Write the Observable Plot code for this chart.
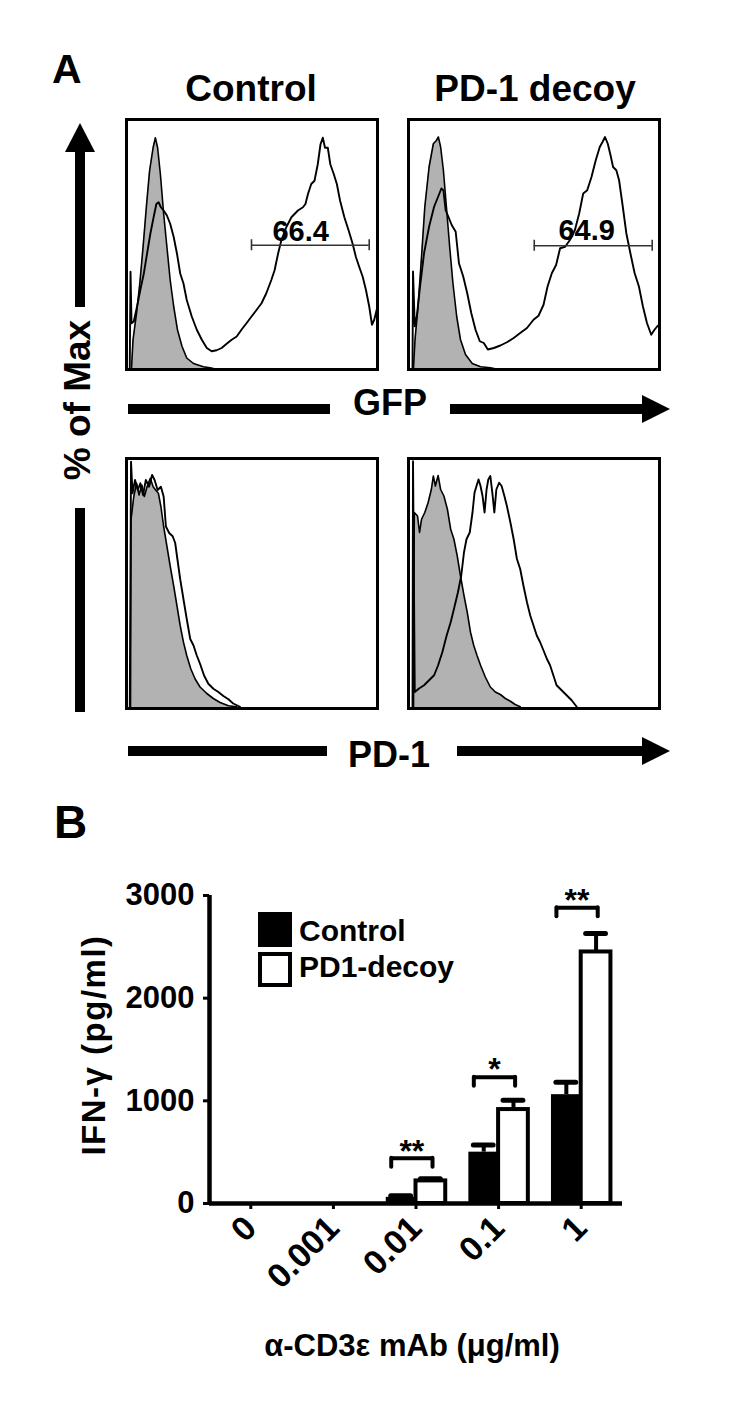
<!DOCTYPE html>
<html><head><meta charset="utf-8">
<script src="https://cdn.jsdelivr.net/npm/d3@7"></script>
<script src="https://cdn.jsdelivr.net/npm/@observablehq/plot@0.6"></script>
<style>
body{margin:0;background:#fff;}
#fig{position:relative;width:729px;height:1401px;overflow:hidden;background:#fff;}
</style></head><body><div id="fig"></div>
<script>
// ---------- Panel A data: flow histograms (x = channel, % of range; y = % of max) ----------
const gfpControlIso = [[2.0,0.7],[2.6,11.9],[4.0,22.5],[5.3,34.4],[6.6,49.0],[7.9,64.9],[9.2,79.5],[10.6,88.7],[11.5,92.7],[12.4,88.7],[13.5,78.1],[14.8,62.3],[16.1,49.0],[17.4,35.8],[18.8,25.2],[20.3,15.9],[22.1,9.3],[24.0,4.6],[26.7,2.4],[30.6,1.1],[33.3,0.7],[35.0,0.3]];
const gfpControl = [[1.3,0.7],[1.6,39.1],[2.0,18.5],[2.9,19.2],[4.2,25.2],[5.5,31.8],[6.9,38.4],[8.2,46.4],[9.5,54.3],[10.8,60.9],[11.9,66.2],[12.8,66.9],[13.7,64.9],[14.8,63.6],[16.1,61.6],[17.4,58.3],[18.8,53.0],[20.1,46.4],[21.4,38.4],[22.7,34.4],[24.0,27.8],[26.0,21.2],[28.0,15.9],[30.0,11.9],[32.0,8.6],[33.9,7.3],[35.9,7.7],[37.9,8.6],[39.9,10.3],[41.9,11.9],[43.9,13.2],[45.8,15.9],[47.8,18.5],[49.8,21.2],[51.8,23.8],[53.8,26.5],[55.7,30.5],[57.7,35.8],[59.0,39.7],[60.4,46.4],[61.7,51.7],[63.7,57.0],[65.7,60.9],[68.3,63.6],[70.3,64.9],[71.3,66.2],[72.3,70.2],[73.6,74.2],[74.9,75.5],[76.2,82.1],[77.3,90.1],[78.2,92.7],[79.1,88.7],[80.2,88.7],[81.2,82.1],[82.6,78.1],[83.8,74.2],[85.1,67.5],[86.8,60.9],[88.5,55.6],[90.1,50.3],[91.4,45.0],[92.7,41.1],[94.1,37.1],[95.4,31.8],[96.7,25.2],[97.8,17.9],[98.7,19.9],[100,25.2]];
const gfpDecoyIso = [[2.0,0.7],[2.6,12.0],[3.8,25.2],[5.2,45.2],[6.5,65.1],[8.2,81.0],[9.9,90.3],[11.1,91.6],[11.9,93.0],[12.8,89.0],[13.9,79.7],[15.1,65.1],[16.4,49.1],[17.7,34.5],[19.2,21.2],[20.7,12.0],[22.7,6.0],[25.4,2.4],[28.7,1.1],[32.6,0.7],[34.5,0.3]];
const gfpDecoy = [[1.6,0.7],[1.8,39.2],[2.5,17.3],[3.3,21.2],[4.6,33.2],[6.2,46.5],[8.2,57.1],[10.2,65.1],[11.8,69.1],[13.1,72.4],[13.9,71.7],[14.8,63.7],[15.9,61.1],[17.2,57.8],[18.8,55.1],[20.1,42.5],[21.8,37.2],[23.4,30.5],[25.0,22.6],[26.7,15.9],[28.4,11.3],[30.0,10.6],[31.6,8.0],[34.0,8.6],[36.6,9.6],[39.2,10.9],[41.9,12.6],[44.5,14.6],[47.2,16.6],[49.8,19.9],[51.8,21.5],[53.8,25.9],[55.4,33.2],[57.1,38.5],[58.8,41.8],[60.4,48.5],[62.4,49.1],[64.3,51.8],[66.3,55.8],[68.0,62.4],[69.6,70.4],[71.2,71.7],[72.9,77.0],[74.6,83.7],[76.2,89.0],[77.3,91.0],[78.3,93.0],[79.4,90.3],[80.5,85.7],[81.5,81.0],[82.8,79.7],[83.9,75.7],[85.2,66.4],[86.8,54.4],[88.4,46.5],[90.1,38.5],[91.8,33.2],[93.4,25.2],[95.0,18.6],[96.7,13.9],[98.0,15.9],[99.3,17.5]];
const pd1ControlIso = [[1.6,0.7],[1.8,75.5],[2.9,84.8],[4.0,90.1],[5.0,85.4],[6.1,89.4],[7.1,84.8],[8.2,88.7],[9.5,92.1],[10.6,88.7],[11.6,87.4],[12.7,86.1],[13.7,80.8],[14.8,72.8],[16.1,64.9],[17.4,57.0],[18.8,49.0],[20.1,41.1],[21.4,33.1],[22.7,26.5],[24.0,21.2],[25.6,15.9],[27.3,11.9],[29.3,8.6],[32.0,6.0],[34.6,4.0],[37.3,2.4],[40.6,1.1],[43.9,0.7]];
const pd1Control = [[1.3,0.7],[1.8,98.7],[2.4,86.1],[3.4,91.4],[4.5,87.4],[5.5,90.1],[6.6,85.4],[7.7,91.4],[9.0,88.7],[10.2,93.4],[11.2,91.4],[12.4,87.4],[13.7,88.7],[14.8,84.8],[15.7,72.8],[17.0,70.2],[18.4,68.9],[19.4,66.2],[20.3,59.6],[21.4,51.7],[22.7,43.7],[24.0,35.8],[25.4,27.8],[26.7,25.2],[28.0,21.2],[29.3,17.9],[30.9,13.2],[32.6,9.9],[34.6,7.9],[36.6,6.6],[38.6,5.0],[40.6,3.7],[42.5,2.0],[45.2,0.7]];
const pd1DecoyIso = [[2.0,0.7],[2.3,78.4],[3.6,77.0],[4.4,70.4],[5.2,75.7],[6.5,78.4],[7.8,82.3],[9.1,87.6],[9.9,93.0],[10.7,89.0],[11.8,93.2],[12.8,87.6],[14.1,85.0],[15.5,79.7],[16.8,71.7],[18.1,67.7],[19.4,61.1],[20.7,53.1],[22.1,45.2],[23.4,38.5],[24.7,30.5],[26.0,25.2],[27.3,21.2],[28.7,17.3],[30.6,12.6],[32.6,8.6],[34.6,6.6],[36.6,5.6],[38.6,4.0],[40.6,2.9],[42.5,1.6],[44.5,0.7]];
const pd1Decoy = [[1.6,0.7],[1.8,98.9],[2.5,6.6],[4.2,8.0],[6.2,9.3],[8.2,11.3],[10.2,13.3],[11.8,17.3],[13.5,22.6],[15.2,29.2],[16.8,34.5],[18.1,39.8],[19.7,46.5],[21.0,53.1],[22.1,62.4],[23.1,67.7],[24.4,70.4],[25.5,78.4],[26.3,86.3],[27.1,89.0],[27.9,91.6],[28.7,89.0],[29.5,85.0],[30.3,78.4],[31.1,87.6],[31.8,91.6],[32.6,93.0],[33.4,86.3],[34.2,78.4],[35.0,87.6],[36.1,90.3],[37.1,89.0],[38.2,85.0],[39.2,81.0],[40.6,74.4],[41.9,67.7],[43.2,59.8],[44.5,55.8],[45.8,49.1],[47.2,42.5],[48.5,37.2],[49.8,33.2],[51.1,29.2],[52.4,26.6],[53.8,23.2],[55.1,19.9],[56.4,17.3],[57.7,13.3],[59.0,9.3],[61.0,7.3],[63.0,5.3],[65.0,3.3],[67.0,0.7]];
// gates
const gateControl = {x1: 49.8, x2: 96.7, y: 49.7, label: "66.4", lx: 69.4, ly: 51.5};
const gateDecoy = {x1: 50.1, x2: 97.1, y: 49.5, label: "64.9", lx: 71.0, ly: 51.8};

// ---------- Panel B data ----------
const concentrations = ["0", "0.001", "0.01", "0.1", "1"];
const controlMean = [0, 0, 60, 500, 1060];
const controlSem = [0, 0, 15, 70, 120];
const decoyMean = [0, 0, 220, 915, 2450];
const decoySem = [0, 0, 20, 90, 180];
const significance = ["", "", "**", "*", "**"];
const bracketLevel = [null, null, 440, 1230, 2880];
const yTicks = [0, 1000, 2000, 3000];
const seriesNames = ["Control", "PD1-decoy"];

const FONT = '"Liberation Sans", Arial, Helvetica, sans-serif';
const fig = document.getElementById("fig");
function place(node, left, top) {
  node.style.position = "absolute";
  node.style.left = left + "px";
  node.style.top = top + "px";
  fig.appendChild(node);
}
const toObj = a => a.map(([x, y]) => ({x, y}));

function histogram(iso, sample, gate) {
  const marks = [
    Plot.areaY(toObj(iso), {x: "x", y: "y", fill: "#b2b2b2"}),
    Plot.lineY(toObj(iso), {x: "x", y: "y", stroke: "#000", strokeWidth: 1.6}),
    Plot.lineY(toObj(sample), {x: "x", y: "y", stroke: "#000", strokeWidth: 1.9})
  ];
  if (gate) {
    marks.push(
      Plot.ruleY([gate], {y: "y", x1: "x1", x2: "x2", stroke: "#333", strokeWidth: 1.6}),
      Plot.ruleX([gate.x1, gate.x2], {x: d => d, y1: gate.y - 2.2, y2: gate.y + 2.2, stroke: "#333", strokeWidth: 1.6}),
      Plot.text([gate], {x: "lx", y: "ly", text: "label", fontSize: 29, fontWeight: "bold", fill: "#000", lineAnchor: "bottom"})
    );
  }
  marks.push(Plot.frame({stroke: "#000", strokeWidth: 3}));
  return Plot.plot({
    width: 255, height: 254, margin: 2,
    x: {domain: [0, 100], axis: null},
    y: {domain: [0, 100], axis: null},
    style: {fontFamily: FONT, background: "transparent", overflow: "visible"},
    marks
  });
}

place(histogram(gfpControlIso, gfpControl, gateControl), 123.5, 116.5);
place(histogram(gfpDecoyIso, gfpDecoy, gateDecoy), 405.5, 116.5);
place(histogram(pd1ControlIso, pd1Control, null), 123.5, 455.5);
place(histogram(pd1DecoyIso, pd1Decoy, null), 405.5, 455.5);

// ---------- Panel B bar chart ----------
const rows = concentrations.map((c, i) => ({
  i, c,
  control: controlMean[i], controlTop: controlMean[i] + controlSem[i],
  decoy: decoyMean[i], decoyTop: decoyMean[i] + decoySem[i],
  sig: significance[i], br: bracketLevel[i]
}));
const BW = 0.36, CAP = 0.12, LEG = 88;
const ctl = rows.filter(d => d.control > 0);
const dec = rows.filter(d => d.decoy > 0);
const sig = rows.filter(d => d.sig);

const bars = Plot.plot({
  width: 729, height: 440,
  marginLeft: 209, marginRight: 107, marginTop: 25, marginBottom: 107,
  x: {domain: [-0.5, 4.5], axis: null},
  y: {domain: [0, 3000], axis: null},
  style: {fontFamily: FONT, fontWeight: "bold", background: "transparent", overflow: "visible", color: "#000"},
  marks: [
    Plot.ruleX(ctl, {x: d => d.i - BW / 2, y1: "control", y2: "controlTop", stroke: "#000", strokeWidth: 4}),
    Plot.ruleY(ctl, {y: "controlTop", x1: d => d.i - BW / 2 - CAP, x2: d => d.i - BW / 2 + CAP, stroke: "#000", strokeWidth: 5, strokeLinecap: "round"}),
    Plot.rectY(ctl, {x1: d => d.i - BW, x2: d => d.i, y: "control", fill: "#000"}),
    Plot.ruleX(dec, {x: d => d.i + BW / 2, y1: "decoy", y2: "decoyTop", stroke: "#000", strokeWidth: 4}),
    Plot.ruleY(dec, {y: "decoyTop", x1: d => d.i + BW / 2 - CAP, x2: d => d.i + BW / 2 + CAP, stroke: "#000", strokeWidth: 5, strokeLinecap: "round"}),
    Plot.rectY(dec, {x1: d => d.i, x2: d => d.i + BW, y: "decoy", fill: "#fff", stroke: "#000", strokeWidth: 4}),
    // significance brackets
    Plot.ruleY(sig, {y: "br", x1: d => d.i - 0.3, x2: d => d.i + 0.2, stroke: "#000", strokeWidth: 4}),
    Plot.ruleX(sig, {x: d => d.i - 0.3, y1: d => d.br - LEG, y2: "br", stroke: "#000", strokeWidth: 4, strokeLinecap: "round"}),
    Plot.ruleX(sig, {x: d => d.i + 0.2, y1: d => d.br - LEG, y2: "br", stroke: "#000", strokeWidth: 4, strokeLinecap: "round"}),
    Plot.text(sig, {x: d => d.i - 0.05, y: "br", text: "sig", dy: -7, fontSize: 32, fontWeight: "bold", fill: "#000", lineAnchor: "middle"}),
    // axes
    Plot.ruleY([0], {x1: -0.5, x2: 4.5, stroke: "#000", strokeWidth: 4.5}),
    Plot.ruleX([-0.5], {y1: 0, y2: 3000, stroke: "#000", strokeWidth: 4.5}),
    Plot.axisY({ticks: yTicks, tickFormat: d => String(d), tickSize: 6, tickPadding: 9, fontSize: 31, fontWeight: "bold", stroke: "#000", strokeWidth: 3}),
    Plot.axisX({ticks: concentrations.map((c, i) => i), tickFormat: i => concentrations[i], tickRotate: -45, tickSize: 6, tickPadding: 13, fontSize: 34, fontWeight: "bold", stroke: "#000", strokeWidth: 3})
  ]
});
place(bars, 0, 870);

// ---------- Labels, arrows, legend (overlay) ----------
const svg = d3.create("svg").attr("width", 729).attr("height", 1401)
  .style("position", "absolute").style("left", "0px").style("top", "0px")
  .attr("font-family", FONT).attr("font-weight", "bold").attr("fill", "#000");

function label(txt, x, y, size, anchor = "start", rotate = 0, spacing = 0) {
  const t = svg.append("text").attr("x", x).attr("y", y).attr("font-size", size)
    .attr("text-anchor", anchor).text(txt);
  if (spacing) t.attr("letter-spacing", spacing);
  if (rotate) t.attr("transform", `rotate(${rotate},${x},${y})`);
  return t;
}
label("A", 52, 83, 41);
label("Control", 251, 101, 37, "middle");
label("PD-1 decoy", 535, 101, 37, "middle");
label("% of Max", 90, 400, 37, "middle", -90);
label("GFP", 390, 415, 36, "middle");
label("PD-1", 389, 767, 36, "middle");
label("B", 54, 838, 46);

// arrows
svg.append("polygon").attr("points", "80,123 95,152 65,152");
svg.append("rect").attr("x", 75).attr("y", 150).attr("width", 10).attr("height", 157);
svg.append("rect").attr("x", 75).attr("y", 508).attr("width", 10).attr("height", 204);
svg.append("rect").attr("x", 128).attr("y", 404).attr("width", 202).attr("height", 10);
svg.append("rect").attr("x", 450).attr("y", 404).attr("width", 194).attr("height", 10);
svg.append("polygon").attr("points", "642,395 670,409 642,423");
svg.append("rect").attr("x", 128).attr("y", 746).attr("width", 199).attr("height", 10);
svg.append("rect").attr("x", 457).attr("y", 746).attr("width", 187).attr("height", 10);
svg.append("polygon").attr("points", "642,737 670,751 642,765");

// legend
svg.append("rect").attr("x", 258).attr("y", 912).attr("width", 34).attr("height", 35).attr("fill", "#000");
svg.append("rect").attr("x", 260).attr("y", 954).attr("width", 30).attr("height", 31).attr("fill", "#fff").attr("stroke", "#000").attr("stroke-width", 4);
label(seriesNames[0], 299, 941, 30);
label(seriesNames[1], 299, 977, 30);

// axis titles
label("IFN-\u03b3 (pg/ml)", 105, 1045, 33, "middle", -90, 1.5);
label("\u03b1-CD3\u03b5 mAb (\u03bcg/ml)", 412, 1356, 31, "middle");

fig.appendChild(svg.node());
</script>
</body></html>
